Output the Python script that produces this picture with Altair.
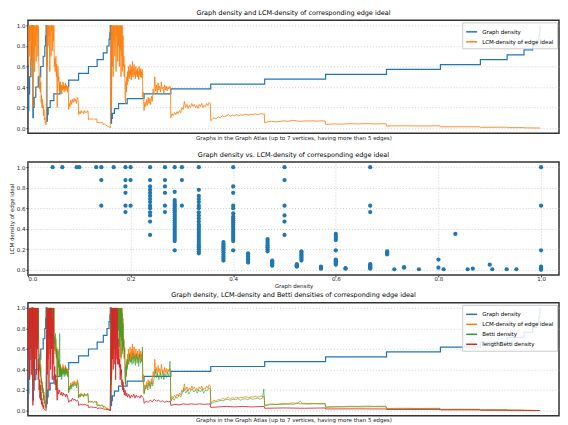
import altair as alt
import pandas as pd

# ---------------- data ----------------
SERIES = ["Graph density", "LCM-density of edge ideal", "Betti density", "lengthBetti density"]
COLORS = ["#1f77b4", "#ff7f0e", "#2ca02c", "#d62728"]

# Graph density: step starts (graph atlas index) and density value
DENS_IDX = [9, 10, 12, 15, 17, 18, 20, 21, 23, 27, 33, 39, 45, 49, 51, 52,
            54, 55, 57, 62, 71, 86, 107, 131, 155, 176, 191, 200, 205, 207, 208,
            210, 211, 213, 218, 228, 249, 290, 355, 452, 583, 731, 879, 1010, 1107,
            1172, 1213, 1234, 1244, 1249, 1251, 1252]
DENS_VAL = [0.167, 0.333, 0.5, 0.667, 0.833, 1.0, 0.1, 0.2, 0.3, 0.4, 0.5, 0.6, 0.7, 0.8, 0.9, 1.0,
            0.067, 0.133, 0.2, 0.267, 0.333, 0.4, 0.467, 0.533, 0.6, 0.667, 0.733, 0.8, 0.867, 0.933, 1.0,
            0.048, 0.095, 0.143, 0.19, 0.238, 0.286, 0.333, 0.381, 0.429, 0.476, 0.524, 0.571, 0.619, 0.667,
            0.714, 0.762, 0.81, 0.857, 0.905, 0.952, 1.0]

# LCM-density of edge ideal (index, value)
LCM_PTS = [
    (9, 0.62), (10, 1.0), (11, 0.7), (12, 1.0), (13, 0.85), (14, 1.0), (15, 0.6), (16, 1.0), (17, 1.0), (18, 0.5),
    (19, 1.0), (20, 0.2), (21, 1.0), (22, 0.75), (23, 1.0), (24, 0.55), (25, 1.0), (26, 0.8), (27, 1.0), (28, 0.65),
    (29, 1.0), (30, 0.9), (31, 1.0), (32, 0.7), (33, 1.0), (34, 0.65), (35, 0.55), (36, 0.38), (37, 0.52), (38, 0.35),
    (39, 0.45), (40, 0.25), (41, 0.32), (42, 0.2), (43, 0.28), (44, 0.19), (45, 0.22), (46, 0.12), (47, 0.18), (48, 0.08),
    (49, 0.1), (50, 0.05), (51, 0.06), (52, 0.03),
    (54, 1.0), (55, 0.6), (56, 1.0), (57, 0.8), (58, 1.0), (59, 0.9), (60, 1.0), (61, 0.55), (62, 1.0), (63, 1.0),
    (64, 0.7), (65, 1.0), (66, 0.95), (67, 1.0), (68, 0.75), (69, 1.0), (70, 0.85), (71, 1.0), (72, 0.6), (73, 0.68),
    (74, 0.55), (75, 0.65), (76, 0.7), (77, 0.5), (78, 0.62), (79, 0.2), (80, 0.55), (81, 0.6), (82, 0.45), (83, 0.5),
    (84, 0.35), (85, 0.45), (86, 0.38), (87, 0.45), (88, 0.36), (89, 0.42), (90, 0.33), (91, 0.4), (92, 0.37), (93, 0.45),
    (94, 0.38), (95, 0.43), (96, 0.35), (97, 0.41), (98, 0.38), (99, 0.44), (100, 0.36), (101, 0.42), (102, 0.38),
    (103, 0.4), (104, 0.35), (105, 0.41), (106, 0.4),
    (107, 0.18), (108, 0.24), (110, 0.21), (112, 0.27), (114, 0.23), (116, 0.28), (118, 0.25), (120, 0.29), (122, 0.26),
    (124, 0.28), (126, 0.24), (128, 0.3), (130, 0.27),
    (131, 0.13), (133, 0.16), (135, 0.14), (137, 0.17), (139, 0.15), (141, 0.16), (143, 0.14), (145, 0.17), (147, 0.15),
    (149, 0.16), (151, 0.15), (153, 0.17), (154, 0.16),
    (155, 0.08), (158, 0.09), (161, 0.085), (164, 0.09), (167, 0.08), (170, 0.09), (173, 0.085), (175, 0.09),
    (176, 0.05), (180, 0.055), (184, 0.05), (188, 0.055), (190, 0.05),
    (191, 0.035), (194, 0.04), (197, 0.03), (200, 0.02), (203, 0.015), (205, 0.01), (207, 0.005), (208, 0.0),
    (210, 1.0), (211, 0.2), (212, 1.0), (213, 0.6), (214, 1.0), (215, 0.5), (216, 1.0), (217, 0.85), (218, 1.0),
    (219, 0.7), (220, 1.0), (221, 1.0), (222, 0.55), (223, 1.0), (224, 0.9), (225, 1.0), (226, 0.65), (227, 1.0),
    (228, 0.8), (229, 1.0), (230, 0.6), (231, 1.0), (232, 0.75), (233, 1.0), (234, 0.5), (235, 1.0), (236, 0.7),
    (237, 1.0), (238, 0.55), (239, 0.9), (240, 0.6), (241, 0.7), (242, 0.5), (243, 0.62), (244, 0.3), (245, 0.24),
    (246, 0.45), (247, 0.35), (248, 0.5),
    (249, 0.42), (250, 0.55), (251, 0.45), (252, 0.6), (253, 0.5), (254, 0.56), (255, 0.48), (256, 0.62), (257, 0.52),
    (258, 0.57), (259, 0.47), (260, 0.6), (261, 0.5), (262, 0.65), (263, 0.55), (264, 0.58), (265, 0.5), (266, 0.62),
    (267, 0.52), (268, 0.55), (269, 0.48), (270, 0.6), (271, 0.52), (272, 0.56), (273, 0.5), (274, 0.58), (275, 0.5),
    (276, 0.55), (277, 0.47), (278, 0.6), (279, 0.52), (280, 0.56), (281, 0.5), (282, 0.58), (283, 0.49), (284, 0.55),
    (285, 0.5), (286, 0.57), (287, 0.3), (288, 0.35), (289, 0.28),
    (290, 0.17), (292, 0.25), (294, 0.21), (296, 0.28), (298, 0.22), (300, 0.3), (302, 0.24), (304, 0.29), (306, 0.23),
    (308, 0.31), (310, 0.26), (312, 0.38), (314, 0.33), (316, 0.5), (318, 0.36), (320, 0.42), (322, 0.34), (324, 0.44),
    (326, 0.37), (328, 0.41), (330, 0.35), (332, 0.45), (334, 0.38), (336, 0.4), (338, 0.34), (340, 0.42), (342, 0.37),
    (344, 0.41), (346, 0.36), (348, 0.4), (350, 0.38), (352, 0.41), (354, 0.4),
    (355, 0.1), (358, 0.14), (361, 0.12), (364, 0.15), (367, 0.13), (370, 0.16), (373, 0.14), (376, 0.17), (379, 0.15),
    (382, 0.2), (385, 0.18), (388, 0.26), (391, 0.2), (394, 0.23), (397, 0.19), (400, 0.22), (403, 0.2), (406, 0.24),
    (409, 0.21), (412, 0.23), (415, 0.2), (418, 0.22), (421, 0.19), (424, 0.23), (427, 0.21), (430, 0.24), (433, 0.2),
    (436, 0.22), (439, 0.21), (442, 0.24), (445, 0.22), (448, 0.25), (451, 0.24),
    (452, 0.07), (456, 0.09), (460, 0.1), (465, 0.09), (470, 0.11), (475, 0.1), (480, 0.12), (485, 0.11), (490, 0.12),
    (495, 0.13), (500, 0.115), (505, 0.125), (510, 0.12), (515, 0.13), (520, 0.12), (525, 0.13), (530, 0.125),
    (535, 0.135), (540, 0.13), (545, 0.125), (550, 0.135), (555, 0.13), (560, 0.14), (565, 0.13), (570, 0.135),
    (575, 0.14), (580, 0.135), (582, 0.14),
    (583, 0.05), (590, 0.06), (600, 0.065), (610, 0.06), (620, 0.065), (630, 0.07), (640, 0.065), (650, 0.075),
    (660, 0.07), (670, 0.065), (680, 0.07), (690, 0.068), (700, 0.07), (710, 0.067), (720, 0.07), (730, 0.068),
    (731, 0.035), (750, 0.04), (770, 0.038), (790, 0.042), (810, 0.04), (830, 0.043), (850, 0.04), (878, 0.042),
    (879, 0.02), (920, 0.022), (960, 0.02), (1009, 0.022),
    (1010, 0.012), (1060, 0.013), (1106, 0.012), (1107, 0.007), (1171, 0.008),
    (1172, 0.004), (1212, 0.004), (1213, 0.002), (1252, 0.0),
]

# Betti density (index, value)
BETTI_PTS = [
    (9, 0.6), (10, 1.0), (11, 0.72), (12, 1.0), (13, 0.8), (14, 1.0), (15, 0.62), (16, 1.0), (17, 1.0), (18, 0.55),
    (19, 1.0), (20, 0.25), (21, 1.0), (22, 0.7), (23, 1.0), (24, 0.6), (25, 1.0), (26, 0.78), (27, 1.0), (28, 0.62),
    (29, 1.0), (30, 0.85), (31, 1.0), (32, 0.68), (33, 1.0), (34, 0.6), (35, 0.5), (36, 0.4), (37, 0.55), (38, 0.33),
    (39, 0.42), (40, 0.27), (41, 0.3), (42, 0.18), (43, 0.25), (44, 0.17), (45, 0.2), (46, 0.1), (47, 0.15), (48, 0.07),
    (49, 0.09), (50, 0.04), (51, 0.05), (52, 0.02),
    (54, 1.0), (55, 0.65), (56, 1.0), (57, 0.75), (58, 1.0), (59, 0.85), (60, 1.0), (61, 0.6), (62, 1.0), (63, 1.0),
    (64, 0.72), (65, 1.0), (66, 0.9), (67, 1.0), (68, 0.7), (69, 1.0), (70, 0.8), (71, 1.0), (72, 0.65), (73, 0.72),
    (74, 0.58), (75, 0.75), (76, 0.66), (77, 0.52), (78, 0.6), (79, 0.22), (80, 0.5), (81, 0.58), (82, 0.42), (83, 0.48),
    (84, 0.33), (85, 0.75), (86, 0.36), (87, 0.43), (88, 0.34), (89, 0.4), (90, 0.3), (91, 0.38), (92, 0.35), (93, 0.42),
    (94, 0.36), (95, 0.4), (96, 0.33), (97, 0.39), (98, 0.36), (99, 0.42), (100, 0.34), (101, 0.4), (102, 0.36),
    (103, 0.38), (104, 0.33), (105, 0.39), (106, 0.38),
    (107, 0.17), (108, 0.22), (110, 0.2), (112, 0.25), (114, 0.21), (116, 0.26), (118, 0.23), (120, 0.27), (122, 0.24),
    (124, 0.26), (126, 0.22), (128, 0.28), (130, 0.25),
    (131, 0.12), (133, 0.15), (135, 0.13), (137, 0.16), (139, 0.14), (141, 0.15), (143, 0.13), (145, 0.16), (147, 0.14),
    (149, 0.15), (151, 0.14), (153, 0.16), (154, 0.15),
    (155, 0.075), (158, 0.085), (161, 0.08), (164, 0.085), (167, 0.075), (170, 0.085), (173, 0.08), (175, 0.085),
    (176, 0.045), (180, 0.05), (184, 0.045), (188, 0.05), (190, 0.045),
    (191, 0.03), (194, 0.035), (197, 0.025), (200, 0.018), (203, 0.012), (205, 0.008), (207, 0.004), (208, 0.0),
    (210, 1.0), (211, 0.25), (212, 1.0), (213, 0.62), (214, 1.0), (215, 0.55), (216, 1.0), (217, 0.8), (218, 1.0),
    (219, 0.72), (220, 1.0), (221, 1.0), (222, 0.6), (223, 1.0), (224, 0.85), (225, 1.0), (226, 0.62), (227, 1.0),
    (228, 0.78), (229, 1.0), (230, 0.62), (231, 1.0), (232, 0.72), (233, 1.0), (234, 0.52), (235, 1.0), (236, 0.68),
    (237, 0.95), (238, 0.58), (239, 0.85), (240, 0.62), (241, 0.68), (242, 0.52), (243, 0.6), (244, 0.32), (245, 0.26),
    (246, 0.43), (247, 0.33), (248, 0.48),
    (249, 0.4), (251, 0.5), (253, 0.45), (255, 0.55), (257, 0.47), (259, 0.52), (261, 0.45), (263, 0.56), (265, 0.46),
    (267, 0.53), (269, 0.44), (271, 0.55), (273, 0.46), (275, 0.52), (277, 0.43), (279, 0.55), (281, 0.46),
    (283, 0.5), (285, 0.47), (286, 0.62), (287, 0.28), (289, 0.26),
    (290, 0.16), (293, 0.22), (296, 0.25), (299, 0.2), (302, 0.27), (305, 0.21), (308, 0.28), (311, 0.24), (314, 0.3),
    (317, 0.4), (320, 0.32), (323, 0.36), (326, 0.3), (329, 0.37), (332, 0.31), (335, 0.38), (338, 0.3), (341, 0.36),
    (344, 0.32), (347, 0.37), (350, 0.33), (353, 0.48), (354, 0.36),
    (355, 0.09), (359, 0.12), (363, 0.1), (367, 0.13), (371, 0.12), (375, 0.15), (379, 0.13), (383, 0.17), (387, 0.22),
    (391, 0.17), (395, 0.2), (399, 0.16), (403, 0.19), (407, 0.21), (411, 0.18), (415, 0.2), (419, 0.17), (423, 0.2),
    (427, 0.18), (431, 0.21), (435, 0.17), (439, 0.2), (443, 0.19), (447, 0.22), (451, 0.21),
    (452, 0.06), (458, 0.08), (464, 0.085), (470, 0.09), (476, 0.1), (482, 0.095), (488, 0.105), (494, 0.11),
    (500, 0.1), (506, 0.11), (512, 0.105), (518, 0.115), (524, 0.1), (530, 0.11), (536, 0.115), (542, 0.105),
    (548, 0.12), (554, 0.11), (560, 0.115), (566, 0.12), (572, 0.11), (578, 0.12), (581, 0.21), (582, 0.12),
    (583, 0.045), (595, 0.055), (610, 0.06), (625, 0.058), (640, 0.062), (655, 0.06), (670, 0.09), (675, 0.065),
    (690, 0.062), (705, 0.066), (720, 0.063), (730, 0.065),
    (731, 0.03), (760, 0.034), (790, 0.036), (820, 0.035), (850, 0.037), (878, 0.036),
    (879, 0.016), (940, 0.018), (1009, 0.018),
    (1010, 0.01), (1106, 0.01), (1107, 0.005), (1171, 0.006), (1172, 0.003), (1252, 0.0),
]

# lengthBetti density (index, value)
LBETTI_PTS = [
    (9, 1.0), (10, 0.5), (11, 1.0), (12, 0.3), (13, 1.0), (14, 0.6), (15, 1.0), (16, 0.35), (17, 1.0), (18, 0.8),
    (19, 1.0), (20, 0.05), (21, 1.0), (22, 0.4), (23, 1.0), (24, 0.3), (25, 0.9), (26, 1.0), (27, 0.5), (28, 1.0),
    (29, 0.35), (30, 1.0), (31, 0.6), (32, 1.0), (33, 0.3), (34, 0.45), (35, 0.2), (36, 0.3), (37, 0.12), (38, 0.25),
    (39, 0.1), (40, 0.18), (41, 0.06), (42, 0.12), (43, 0.04), (44, 0.08), (45, 0.02), (46, 0.05), (47, 0.02),
    (48, 0.01), (50, 0.005), (52, 0.0),
    (54, 1.0), (55, 0.35), (56, 1.0), (57, 0.5), (58, 1.0), (59, 0.2), (60, 1.0), (61, 0.7), (62, 1.0), (63, 0.4),
    (64, 1.0), (65, 0.6), (66, 1.0), (67, 0.3), (68, 0.9), (69, 0.45), (70, 1.0), (71, 0.4), (72, 0.3), (73, 0.43),
    (74, 0.25), (75, 0.35), (76, 0.2), (77, 0.3), (78, 0.18), (79, 0.1), (80, 0.22), (82, 0.16), (84, 0.2), (86, 0.17),
    (88, 0.15), (90, 0.18), (92, 0.14), (94, 0.17), (96, 0.15), (98, 0.16), (100, 0.13), (102, 0.16), (104, 0.14),
    (106, 0.1), (107, 0.08), (110, 0.1), (113, 0.09), (116, 0.12), (119, 0.1), (122, 0.11), (125, 0.09), (128, 0.1),
    (130, 0.09), (131, 0.05), (136, 0.06), (141, 0.055), (146, 0.06), (151, 0.05), (154, 0.055), (155, 0.03),
    (162, 0.035), (169, 0.03), (175, 0.03), (176, 0.02), (183, 0.025), (190, 0.02), (191, 0.015), (197, 0.012),
    (203, 0.008), (208, 0.0),
    (210, 1.0), (211, 0.3), (212, 1.0), (213, 0.5), (214, 1.0), (215, 0.4), (216, 1.0), (217, 0.6), (218, 1.0),
    (219, 0.45), (220, 1.0), (221, 0.3), (222, 0.9), (223, 1.0), (224, 0.5), (225, 1.0), (226, 0.45), (227, 0.7),
    (228, 0.45), (229, 0.6), (230, 0.42), (231, 0.5), (232, 0.3), (233, 0.45), (234, 0.35), (235, 0.4), (236, 0.25),
    (237, 0.3), (238, 0.2), (239, 0.28), (240, 0.18), (241, 0.22), (242, 0.15), (244, 0.2), (246, 0.14), (248, 0.17),
    (250, 0.13), (253, 0.16), (256, 0.12), (259, 0.15), (262, 0.13), (265, 0.16), (268, 0.12), (271, 0.15),
    (274, 0.13), (277, 0.14), (280, 0.12), (283, 0.15), (286, 0.13), (289, 0.12),
    (290, 0.07), (295, 0.09), (300, 0.08), (305, 0.1), (310, 0.085), (315, 0.11), (320, 0.09), (325, 0.1),
    (330, 0.085), (335, 0.095), (340, 0.08), (345, 0.09), (350, 0.085), (354, 0.09),
    (355, 0.05), (365, 0.06), (375, 0.055), (385, 0.065), (395, 0.06), (405, 0.065), (415, 0.06), (425, 0.065),
    (435, 0.06), (451, 0.065),
    (452, 0.03), (470, 0.035), (490, 0.04), (510, 0.035), (530, 0.04), (550, 0.035), (582, 0.04),
    (583, 0.022), (630, 0.025), (680, 0.022), (730, 0.025),
    (731, 0.015), (800, 0.016), (878, 0.015), (879, 0.01), (1009, 0.01),
    (1010, 0.006), (1106, 0.006), (1107, 0.003), (1252, 0.0),
]

# Scatter: graph density vs LCM density
SCAT_X = ([0.048, 0.067, 0.095, 0.1, 0.133] +
          [0.143] * 3 + [0.167] + [0.19] * 6 + [0.2] * 3 + [0.238] * 14 + [0.267] * 6 +
          [0.286] * 24 + [0.3] * 3 + [0.333] * 26 + [0.381] * 10 + [0.4] * 20 + [0.429] * 7 +
          [0.467] * 7 + [0.476] * 6 + [0.5] * 6 + [0.524] * 4 + [0.533] * 7 + [0.571] * 3 +
          [0.6] * 11 + [0.619] * 2 + [0.667] * 9 + [0.7] * 4 + [0.714, 0.733, 0.733, 0.762, 0.8, 0.8,
          0.81, 0.833, 0.857, 0.867, 0.9, 0.905, 0.933, 0.952] + [1.0] * 6)
SCAT_Y = ([1.0, 1.0, 1.0, 1.0, 1.0] +
          [1.0, 0.875, 0.625] + [1.0] + [1.0, 0.875, 0.8125, 0.75, 0.625, 0.5625] + [1.0, 0.875, 0.625] +
          [1.0, 0.875, 0.8125, 0.78, 0.75, 0.72, 0.69, 0.66, 0.625, 0.6, 0.56, 0.53, 0.47, 0.34] +
          [1.0, 0.875, 0.8125, 0.75, 0.625, 0.5625] +
          [1.0, 0.76, 0.68, 0.66, 0.64, 0.62, 0.6, 0.58, 0.56, 0.54, 0.52, 0.5, 0.48, 0.46, 0.44, 0.42, 0.4, 0.38,
           0.36, 0.34, 0.32, 0.3, 0.28, 0.19] +
          [1.0, 0.875, 0.625] +
          [1.0, 0.78, 0.72, 0.69, 0.66, 0.625, 0.6, 0.56, 0.53, 0.5, 0.47, 0.44, 0.42, 0.4, 0.38, 0.36, 0.34, 0.32,
           0.3, 0.28, 0.26, 0.24, 0.22, 0.2, 0.18, 0.16] +
          [0.27, 0.25, 0.23, 0.21, 0.19, 0.17, 0.15, 0.13, 0.11, 0.09] +
          [1.0, 0.8125, 0.75, 0.625, 0.6, 0.55, 0.52, 0.5, 0.48, 0.46, 0.44, 0.42, 0.4, 0.38, 0.36, 0.34, 0.32, 0.3,
           0.28, 0.19] +
          [0.16, 0.145, 0.13, 0.115, 0.1, 0.085, 0.07] +
          [0.3, 0.28, 0.26, 0.24, 0.22, 0.2, 0.18] +
          [0.09, 0.08, 0.07, 0.06, 0.05, 0.04] +
          [1.0, 0.875, 0.625, 0.53, 0.47, 0.34] +
          [0.055, 0.045, 0.035, 0.03] +
          [0.18, 0.165, 0.15, 0.135, 0.12, 0.105, 0.09] +
          [0.03, 0.02, 0.01] +
          [0.35, 0.33, 0.31, 0.29, 0.19, 0.1, 0.09, 0.08, 0.07, 0.06, 0.05] +
          [0.015, 0.01] +
          [1.0, 0.625, 0.5625, 0.055, 0.045, 0.035, 0.025, 0.015, 0.01] +
          [0.18, 0.17, 0.16, 0.15] +
          [0.005, 0.025, 0.02, 0.005, 0.1, 0.02, 0.005, 0.35, 0.005, 0.01, 0.05, 0.005, 0.005, 0.005] +
          [1.0, 0.625, 0.19, 0.03, 0.015, 0.0])

TICKS = [0.0, 0.2, 0.4, 0.6, 0.8, 1.0]
XLABEL = "Graphs in the Graph Atlas (up to 7 vertices, having more than 5 edges)"

# ---------------- frames ----------------
dens_df = pd.DataFrame({"idx": DENS_IDX, "value": DENS_VAL, "series": SERIES[0]})


def pts_df(pts, name):
    return pd.DataFrame({"idx": [p[0] for p in pts], "value": [p[1] for p in pts], "series": name})


lcm_df = pts_df(LCM_PTS, SERIES[1])
betti_df = pts_df(BETTI_PTS, SERIES[2])
lb_df = pts_df(LBETTI_PTS, SERIES[3])
scat_df = pd.DataFrame({"density": SCAT_X, "lcm": SCAT_Y})

W = 532
H = 113
FONT = "DejaVu Sans"

xs = alt.Scale(domain=[8, 1298], nice=False, zero=False)
ys = alt.Scale(domain=[-0.05, 1.05], nice=False, zero=False)

grid_kw = dict(gridDash=[1, 2], gridColor="#b0b0b0", gridWidth=0.6)
yaxis = alt.Axis(values=TICKS, format=".1f", title=None, tickSize=2, labelPadding=1, domain=False,
                 **grid_kw)


def xline_axis(title_lines, line_h=7):
    return alt.Axis(title=title_lines, labels=False, ticks=False, grid=False, domain=False,
                    titlePadding=2, titleLineHeight=line_h)


def line_layer(df, names, colors, opacity, xaxis, interp="linear", width=1.0):
    return alt.Chart(df).mark_line(clip=True, strokeWidth=width, opacity=opacity, interpolate=interp).encode(
        x=alt.X("idx:Q", scale=xs, axis=xaxis),
        y=alt.Y("value:Q", scale=ys, axis=yaxis),
        color=alt.Color("series:N", scale=alt.Scale(domain=names, range=colors),
                        legend=alt.Legend(title=None, orient="top-right", offset=2, symbolType="stroke",
                                          symbolSize=120, symbolStrokeWidth=1.5, labelFontSize=5.5,
                                          labelFont=FONT, fillColor="rgba(255,255,255,0.85)",
                                          strokeColor="#cccccc", padding=3, rowPadding=0,
                                          labelLimit=200)),
    )


names1 = SERIES[:2]
cols1 = COLORS[:2]
ax1 = xline_axis([XLABEL, " "], 7)
p1 = alt.layer(
    line_layer(dens_df, names1, cols1, 1.0, ax1, "step-after", 1.2),
    line_layer(lcm_df, names1, cols1, 0.85, ax1),
).properties(width=W, height=H, title="Graph density and LCM-density of corresponding edge ideal")

p2 = alt.Chart(scat_df).mark_circle(size=18, opacity=1, color="#1f77b4").encode(
    x=alt.X("density:Q", scale=alt.Scale(domain=[0, 1.035], nice=False),
            axis=alt.Axis(values=TICKS, format=".1f", title="Graph density", tickSize=2, labelPadding=0,
                          titlePadding=1, domain=False, **grid_kw)),
    y=alt.Y("lcm:Q", scale=ys,
            axis=alt.Axis(values=TICKS, format=".1f", title="LCM density of edge ideal", tickSize=2,
                          labelPadding=1, titlePadding=2, domain=False, **grid_kw)),
).properties(width=W, height=H, title="Graph density vs. LCM-density of corresponding edge ideal")

ax3 = xline_axis(XLABEL)
p3 = alt.layer(
    line_layer(dens_df, SERIES, COLORS, 1.0, ax3, "step-after", 1.2),
    line_layer(lcm_df, SERIES, COLORS, 0.8, ax3),
    line_layer(betti_df, SERIES, COLORS, 0.6, ax3),
    line_layer(lb_df, SERIES, COLORS, 0.85, ax3),
).properties(width=W, height=H,
             title="Graph density, LCM-density and Betti densities of corresponding edge ideal")

chart = alt.vconcat(p1, p2, p3, spacing=1).resolve_scale(color="independent").resolve_legend(
    color="independent"
).properties(padding=0).configure(
    font=FONT
).configure_view(
    stroke="#333333", strokeWidth=1.5
).configure_title(
    fontSize=6.5, font=FONT, fontWeight="normal", offset=0, color="#000000"
).configure_axis(
    labelFontSize=5.5, titleFontSize=5.5, labelFont=FONT, titleFont=FONT, titleFontWeight="normal",
    labelColor="#222222", titleColor="#222222", tickColor="#333333"
)

chart.save("out.html", embed_options={"renderer": "svg", "actions": False})
